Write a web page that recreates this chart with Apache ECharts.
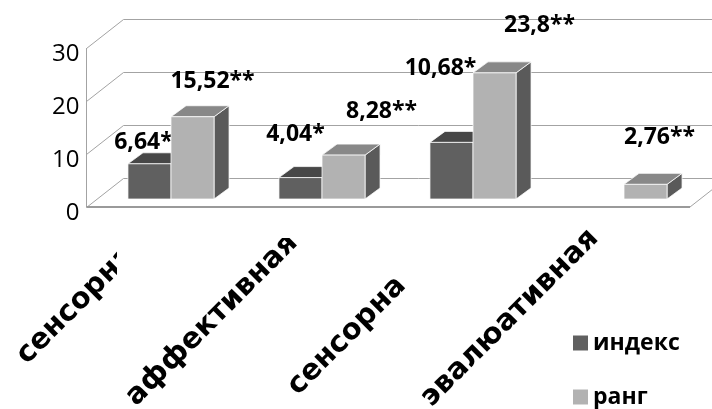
<!DOCTYPE html>
<html>
<head>
<meta charset="utf-8">
<script src="https://cdn.jsdelivr.net/npm/echarts@6/dist/echarts.min.js"></script>
<style>
html,body{margin:0;padding:0;background:#fff;}
#chart{width:712px;height:409px;}
</style>
</head>
<body>
<div id="chart"></div>
<script>
// ---- data ----
const categories = ['сенсорна', 'аффективная', 'сенсорна', 'эвалюативная'];
const seriesNames = ['индекс', 'ранг'];
const indexValues = [6.64, 4.04, 10.68, null];
const rankValues = [15.52, 8.28, 23.8, 2.76];
const indexMarks = ['*', '*', '*', '*'];
const rankMarks = ['**', '**', '**', '**'];
const yTicks = [0, 10, 20, 30];

// ---- styling (not data) ----
const WALL_DX = 37, WALL_DY = -29;     // depth of the chart box
const BAR_OX = 10, BAR_OY = -8;        // bar row offset from the front plane
const BAR_DX = 15, BAR_DY = -11;       // bar depth
const indexLabelShift = [[-6, -21], [-5, -43], [-11, -74], [0, 0]];
const rankLabelShift = [[20, -35], [38, -44], [45, -47], [14, -47]];
const catLabelShift = [[-85, 98], [-100, 113], [-116, 129], [-104, 111]];
// label clipping like the original (relative to category point): [maxDx, minDy]
const catLabelClip = [[-44, null], [null, 31], [null, null], [null, null]];
const palette = {
  index: {front: '#606060', top: '#474747', side: '#3c3c3c'},
  rank: {front: '#b2b2b2', top: '#888888', side: '#5a5a5a'}
};
const gridColor = '#a3a3a3';

function fmt(v) { return String(v).replace('.', ','); }

function barRenderer(slot, pal, marks, shifts) {
  return function (params, api) {
    const i = api.value(0);
    const v = api.value(1);
    if (v == null || isNaN(v)) return null;
    const base = api.coord([i, 0]);
    const topPt = api.coord([i, v]);
    const band = api.size([1, 0])[0];
    const w = band * 0.285;
    const x0 = base[0] - w + slot * w + BAR_OX;
    const y0 = base[1] + BAR_OY;
    const yt = topPt[1] + BAR_OY;
    const edge = {stroke: 'rgba(255,255,255,0.75)', lineWidth: 1};
    const sh = shifts[i];
    return {
      type: 'group',
      children: [
        {type: 'polygon', shape: {points: [[x0 + w, yt], [x0 + w + BAR_DX, yt + BAR_DY], [x0 + w + BAR_DX, y0 + BAR_DY], [x0 + w, y0]]},
          style: Object.assign({fill: pal.side}, edge)},
        {type: 'polygon', shape: {points: [[x0, yt], [x0 + w, yt], [x0 + w + BAR_DX, yt + BAR_DY], [x0 + BAR_DX, yt + BAR_DY]]},
          style: Object.assign({fill: pal.top}, edge)},
        {type: 'rect', shape: {x: x0, y: yt, width: w, height: y0 - yt},
          style: Object.assign({fill: pal.front}, edge)},
        {type: 'text', x: x0 + w / 2 + sh[0], y: yt + sh[1], z2: 100,
          style: {text: fmt(v) + marks[i], fill: '#000', font: 'bold 23px "Open Sans"', align: 'center', verticalAlign: 'middle'}}
      ]
    };
  };
}

const chart = echarts.init(document.getElementById('chart'), null, {renderer: 'canvas'});
chart.setOption({
  animation: false,
  backgroundColor: '#fff',
  grid: {left: 85.5, right: 22.5, top: 48, bottom: 202, containLabel: false},
  xAxis: {type: 'category', data: categories, axisLine: {show: false}, axisTick: {show: false},
    axisLabel: {show: false}, splitLine: {show: false}},
  yAxis: {type: 'value', min: 0, max: 30, interval: 10, axisLine: {show: false}, axisTick: {show: false},
    splitLine: {show: false}, axisLabel: {show: false}},
  legend: {
    data: seriesNames, orient: 'vertical', left: 573, top: 331, padding: 0,
    itemWidth: 15, itemHeight: 15, itemGap: 30, icon: 'rect',
    textStyle: {color: '#000', fontFamily: 'Open Sans', fontWeight: 'bold', fontSize: 23, lineHeight: 24}
  },
  series: [
    {
      type: 'custom', name: 'walls', silent: true, z: 1,
      data: [[0, 0]],
      renderItem: function (params, api) {
        const cs = params.coordSys;
        const L = Math.round(cs.x) + 0.5, R = Math.round(cs.x + cs.width);
        const y0 = api.coord([0, 0])[1];
        const yT = api.coord([0, yTicks[yTicks.length - 1]])[1];
        const st = {stroke: gridColor, lineWidth: 1};
        const kids = [];
        yTicks.forEach(function (t) {
          const yy = api.coord([0, t])[1];
          const y = Math.round(yy) + 0.5;
          kids.push({type: 'line', shape: {x1: L, y1: y, x2: L + WALL_DX, y2: y + WALL_DY}, style: st});
          kids.push({type: 'line', shape: {x1: L + WALL_DX, y1: y + WALL_DY, x2: R + WALL_DX + 40, y2: y + WALL_DY}, style: st});
          kids.push({type: 'text', x: L - 7, y: yy + 6,
            style: {text: String(t), fill: '#000', font: '24px "Open Sans"', align: 'right', verticalAlign: 'middle'}});
        });
        kids.push({type: 'line', shape: {x1: L, y1: yT, x2: L, y2: y0}, style: st});
        kids.push({type: 'line', shape: {x1: L, y1: y0, x2: R, y2: y0}, style: {stroke: '#9a9a9a', lineWidth: 2}});
        kids.push({type: 'line', shape: {x1: R, y1: y0, x2: R + WALL_DX, y2: y0 + WALL_DY}, style: st});
        return {type: 'group', children: kids};
      }
    },
    {
      type: 'custom', name: seriesNames[0], z: 2,
      itemStyle: {color: palette.index.front},
      data: indexValues.map(function (v, i) { return [i, v]; }),
      encode: {x: 0, y: 1},
      renderItem: barRenderer(0, palette.index, indexMarks, indexLabelShift)
    },
    {
      type: 'custom', name: seriesNames[1], z: 3,
      itemStyle: {color: palette.rank.front},
      data: rankValues.map(function (v, i) { return [i, v]; }),
      encode: {x: 0, y: 1},
      renderItem: barRenderer(1, palette.rank, rankMarks, rankLabelShift)
    },
    {
      type: 'custom', name: 'categoryLabels', silent: true, z: 4,
      data: categories.map(function (c, i) { return [i, 0]; }),
      encode: {x: 0, y: 1},
      renderItem: function (params, api) {
        const i = api.value(0);
        const p = api.coord([i, 0]);
        const sh = catLabelShift[i];
        const cl = catLabelClip[i];
        const xMax = cl[0] == null ? 800 : p[0] + cl[0];
        const yMin = cl[1] == null ? 0 : p[1] + cl[1];
        return {
          type: 'group',
          clipPath: {type: 'rect', shape: {x: -10, y: yMin, width: xMax + 10, height: 420 - yMin}},
          children: [{type: 'text', x: p[0] + sh[0], y: p[1] + sh[1], rotation: Math.PI / 4,
            style: {text: categories[i], fill: '#000', font: 'bold 29px "DejaVu Sans"', align: 'center', verticalAlign: 'middle'}}]
        };
      }
    }
  ]
});
</script>
</body>
</html>
